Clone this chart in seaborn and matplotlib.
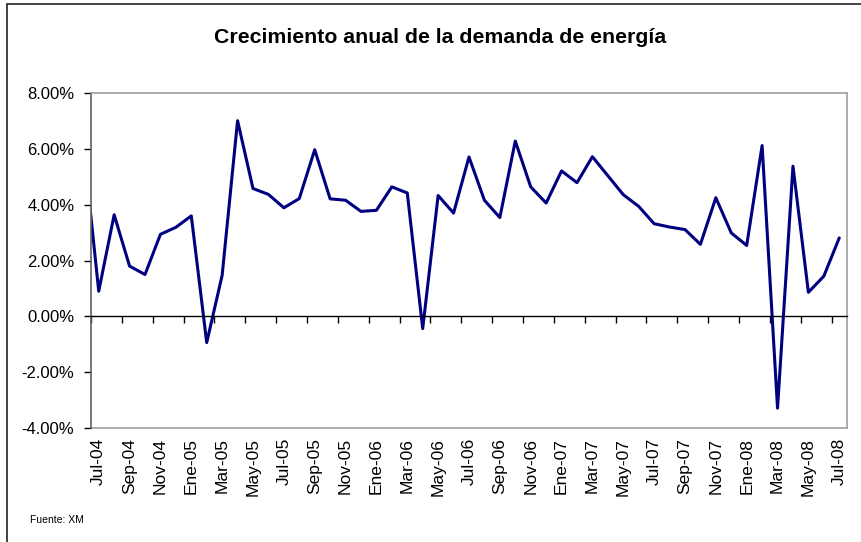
import numpy as np
import pandas as pd
import seaborn as sns
import matplotlib.pyplot as plt
from matplotlib.patches import Rectangle
from matplotlib.ticker import FuncFormatter

# --- datos: crecimiento anual de la demanda (%), jul-04 a jul-08 ---
month_labels = [
    'Jul-04', 'Ago-04', 'Sep-04', 'Oct-04', 'Nov-04', 'Dic-04',
    'Ene-05', 'Feb-05', 'Mar-05', 'Abr-05', 'May-05', 'Jun-05',
    'Jul-05', 'Ago-05', 'Sep-05', 'Oct-05', 'Nov-05', 'Dic-05',
    'Ene-06', 'Feb-06', 'Mar-06', 'Abr-06', 'May-06', 'Jun-06',
    'Jul-06', 'Ago-06', 'Sep-06', 'Oct-06', 'Nov-06', 'Dic-06',
    'Ene-07', 'Feb-07', 'Mar-07', 'Abr-07', 'May-07', 'Jun-07',
    'Jul-07', 'Ago-07', 'Sep-07', 'Oct-07', 'Nov-07', 'Dic-07',
    'Ene-08', 'Feb-08', 'Mar-08', 'Abr-08', 'May-08', 'Jun-08',
    'Jul-08',
]
growth = [
    0.90, 3.64, 1.80, 1.50, 2.94, 3.19,
    3.60, -0.94, 1.47, 7.01, 4.58, 4.37,
    3.89, 4.22, 5.97, 4.21, 4.16, 3.76,
    3.80, 4.64, 4.42, -0.44, 4.33, 3.70,
    5.71, 4.16, 3.54, 6.28, 4.64, 4.06,
    5.21, 4.79, 5.72, 5.04, 4.36, 3.94,
    3.32, 3.20, 3.11, 2.58, 4.25, 2.99,
    2.54, 6.12, -3.29, 5.38, 0.86, 1.44,
    2.81,
]
# previous month (Jun-04), drawn but clipped by the axis start
prev_label = 'Jun-04'
prev_value = 6.2

df = pd.DataFrame({
    'pos': np.arange(-1, len(growth)),
    'crec': [prev_value] + growth,
})

sns.set_theme(style='white')
plt.rcParams['font.family'] = ['Liberation Sans', 'DejaVu Sans']
plt.rcParams['text.color'] = 'black'

fig = plt.figure(figsize=(8.61, 5.42), dpi=100)
ax = fig.add_axes([0.1057, 0.2103, 0.878, 0.618])

sns.lineplot(data=df, x='pos', y='crec', color='#000080', linewidth=2.2, ax=ax)

ax.set_xlim(-0.5, len(growth) - 0.5)
ax.set_ylim(-4, 8)
ax.set_xlabel('')
ax.set_ylabel('')

# y axis
ax.set_yticks(np.arange(-4, 9, 2))
ax.yaxis.set_major_formatter(FuncFormatter(lambda v, _: f'{v:.2f}%'))
ax.tick_params(axis='y', left=True, direction='out', length=5, width=1,
               pad=7, labelsize=12, colors='black')

# zero line with tick marks between categories
ax.spines['bottom'].set_position(('data', 0))
ax.spines['bottom'].set_color('black')
ax.spines['bottom'].set_linewidth(1)
ax.set_xticks(np.arange(-0.5, len(growth) - 1, 2))
ax.tick_params(axis='x', bottom=True, direction='out', length=5, width=1,
               color='black', labelbottom=False)

ax.spines['left'].set_color('#606060')
ax.spines['left'].set_linewidth(1.2)
for side in ['top', 'right']:
    ax.spines[side].set_color('#a0a0a0')
    ax.spines[side].set_linewidth(1.2)

# category labels at the bottom of the plot area
sec = ax.secondary_xaxis('bottom')
sec.set_xticks(np.arange(0, len(growth), 2), labels=month_labels[::2])
sec.tick_params(axis='x', length=0, pad=7, rotation=90, labelsize=12.5,
                colors='black')
sec.spines['bottom'].set_color('#a0a0a0')
sec.spines['bottom'].set_linewidth(1.2)

fig.text(0.511, 0.931, 'Crecimiento anual de la demanda de energía',
         ha='center', va='center', fontsize=15.3, fontweight='bold',
         color='black')
fig.text(30 / 861, 0.040, 'Fuente: XM', ha='left', va='center', fontsize=7.5,
         color='black')

# chart area border (partly outside the image)
fig.add_artist(Rectangle((7 / 861, -0.05), 1.2, 1.0426, transform=fig.transFigure,
                         fill=False, edgecolor='#222222', linewidth=1.2))

fig.savefig('out.png', dpi=100)
